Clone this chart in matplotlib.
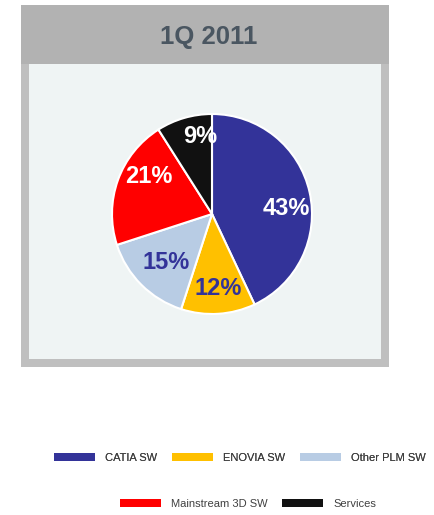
import numpy as np
import matplotlib
matplotlib.use('Agg')
import matplotlib.pyplot as plt
from matplotlib.patches import Rectangle, Patch

categories = ['CATIA SW', 'ENOVIA SW', 'Other PLM SW', 'Mainstream 3D SW', 'Services']
shares = [43, 12, 15, 21, 9]
colors = ['#333399', '#FFC000', '#B8CCE4', '#FF0000', '#111111']
label_colors = ['white', '#333399', '#333399', 'white', 'white']
title = '1Q 2011'

W, H = 435, 515
fig = plt.figure(figsize=(W / 100, H / 100), dpi=100)
fig.patch.set_facecolor('white')


def box(x0, y0, x1, y1):
    # pixel box (top-left origin) -> figure fraction rect
    return [x0 / W, 1 - y1 / H, (x1 - x0) / W, (y1 - y0) / H]


def rect(x0, y0, x1, y1, color):
    l, b, w, h = box(x0, y0, x1, y1)
    fig.patches.append(Rectangle((l, b), w, h, transform=fig.transFigure,
                                 facecolor=color, edgecolor='none', zorder=-10))


# frame
rect(21, 64, 389, 367, '#BFBFBF')
rect(21, 5, 389, 64, '#B2B2B2')
rect(29, 64, 381, 359, '#EFF4F4')
fig.text(209 / W, 1 - 37 / H, title, ha='center', va='center', fontsize=18.5,
         fontweight='bold', color='#4A5661', family='Liberation Sans')

ax = fig.add_axes(box(110, 112, 314, 316))
ax.set_zorder(5)
ax.patch.set_visible(False)
wedges, texts, autotexts = ax.pie(shares, colors=colors, startangle=90, counterclock=False,
                                  autopct='%d%%', pctdistance=0.72,
                                  wedgeprops=dict(edgecolor='white', linewidth=1.5))
ax.set_aspect('equal')
ax.set_xlim(-1.02, 1.02)
ax.set_ylim(-1.02, 1.02)

# nudge labels to where they sit in the original
nudges = [(0.04, -0.10), (0.015, -0.03), (0.05, 0.025), (0.05, 0.13), (0.08, 0.08)]
for t, c, (dx, dy) in zip(autotexts, label_colors, nudges):
    x, y = t.get_position()
    t.set_position((x + dx, y + dy))
    t.set_color(c)
    t.set_fontsize(17)
    t.set_fontweight('bold')
    t.set_family('Liberation Sans')

handles = [Patch(facecolor=c, edgecolor='none') for c in colors]
leg_kw = dict(frameon=False, handlelength=3.7, handleheight=0.8, handletextpad=0.9,
              columnspacing=1.35, prop=dict(family='Liberation Sans', size=8))
leg1 = fig.legend(handles[:3], categories[:3], ncol=3, loc='center',
                  bbox_to_anchor=(240 / W, 1 - 458 / H), **leg_kw)
fig.add_artist(leg1)
leg2 = fig.legend(handles[3:], categories[3:], ncol=2, loc='center',
                  bbox_to_anchor=(248 / W, 1 - 504 / H), **leg_kw)
for leg in (leg1, leg2):
    for t in leg.get_texts():
        t.set_color('#404040')

fig.savefig('out.png', dpi=100, facecolor='white')
